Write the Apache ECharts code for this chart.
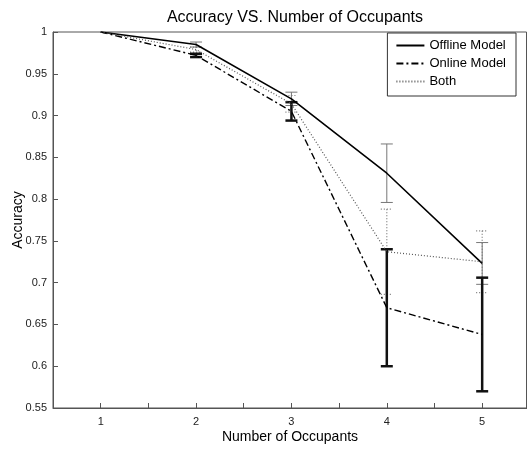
<!DOCTYPE html>
<html>
<head>
<meta charset="utf-8">
<script src="https://cdn.jsdelivr.net/npm/echarts@6/dist/echarts.min.js"></script>
<style>
  html, body { margin: 0; padding: 0; background: #fff; }
  #chart { width: 527px; height: 450px; }
</style>
</head>
<body>
<div id="chart"></div>
<script>
// values
const occupants = [1, 2, 3, 4, 5]
const offline = [1.0, 0.985, 0.920, 0.831, 0.723]
const online = [1.0, 0.972, 0.905, 0.670, 0.638]
const both = [1.0, 0.979, 0.914, 0.737, 0.725]
const offlineErr = [0, 0.003, 0.008, 0.035, 0.025]
const onlineErr = [0, 0.002, 0.011, 0.070, 0.068]
const bothErr = [0, 0.003, 0.010, 0.051, 0.037]

const font = 'Liberation Sans, Arial, sans-serif'

const chart = echarts.init(document.getElementById('chart'))

const errorBar = (color, width, dash) => (params, api) => {
  const x = api.value(0)
  const y = api.value(1)
  const e = api.value(2)
  if (!e) return null
  const top = api.coord([x, y + e])
  const bot = api.coord([x, y - e])
  const cap = 6
  const style = { stroke: color, lineWidth: width, lineDash: dash }
  return {
    type: 'group',
    children: [
      { type: 'line', shape: { x1: top[0], y1: top[1], x2: bot[0], y2: bot[1] }, style },
      { type: 'line', shape: { x1: top[0] - cap, y1: top[1], x2: top[0] + cap, y2: top[1] }, style },
      { type: 'line', shape: { x1: bot[0] - cap, y1: bot[1], x2: bot[0] + cap, y2: bot[1] }, style }
    ]
  }
}

const pairs = (vals, errs) => occupants.map((x, i) => [x, vals[i], errs[i]])

const option = {
  animation: false,
  backgroundColor: '#fff',
  title: {
    text: 'Accuracy VS. Number of Occupants',
    left: 290,
    textAlign: 'center',
    top: 5,
    textStyle: { fontFamily: font, fontWeight: 'normal', fontSize: 16, color: '#000' }
  },
  legend: {
    orient: 'vertical',
    right: 11,
    top: 33,
    backgroundColor: '#fff',
    borderColor: '#333',
    borderWidth: 1,
    borderRadius: 0,
    padding: [6, 10, 8, 8],
    itemGap: 5,
    itemWidth: 28,
    itemHeight: 13,
    itemStyle: { opacity: 0 },
    textStyle: { fontFamily: font, fontSize: 13, color: '#000' },
    data: ['Offline Model', 'Online Model', 'Both']
  },
  grid: { left: 53, right: 0, top: 32, bottom: 42, outerBoundsMode: 'none', containLabel: false },
  xAxis: {
    type: 'value',
    min: 0.5,
    max: 5.47,
    interval: 0.5,
    name: 'Number of Occupants',
    nameLocation: 'middle',
    nameGap: 22,
    nameMoveOverlap: false,
    nameTextStyle: { fontFamily: font, fontSize: 14, color: '#000' },
    axisLine: { lineStyle: { color: '#555' } },
    axisTick: { inside: true, length: 5, lineStyle: { color: '#555' } },
    axisLabel: {
      fontFamily: font, fontSize: 11, color: '#222', margin: 8,
      showMinLabel: false, showMaxLabel: false,
      formatter: v => (Number.isInteger(v) ? String(v) : '')
    },
    splitLine: { show: false }
  },
  yAxis: {
    type: 'value',
    min: 0.55,
    max: 1,
    interval: 0.05,
    name: 'Accuracy',
    nameLocation: 'middle',
    nameGap: 28,
    nameMoveOverlap: false,
    nameTextStyle: { fontFamily: font, fontSize: 14, color: '#000' },
    axisLine: { show: true, lineStyle: { color: '#555' } },
    axisTick: { show: true, inside: true, length: 5, lineStyle: { color: '#555' } },
    axisLabel: {
      fontFamily: font, fontSize: 11, color: '#222', margin: 6,
      formatter: v => String(Math.round(v * 100) / 100)
    },
    splitLine: { show: false }
  },
  series: [
    {
      name: 'Offline Model',
      type: 'line',
      data: occupants.map((x, i) => [x, offline[i]]),
      symbol: 'none',
      lineStyle: { color: '#000', width: 1.6, type: 'solid' },
      itemStyle: { color: '#000' },
      z: 5
    },
    {
      name: 'Online Model',
      type: 'line',
      data: occupants.map((x, i) => [x, online[i]]),
      symbol: 'none',
      lineStyle: { color: '#000', width: 1.4, type: [7, 3, 2, 3] },
      itemStyle: { color: '#000' },
      z: 5
    },
    {
      name: 'Both',
      type: 'line',
      data: occupants.map((x, i) => [x, both[i]]),
      symbol: 'none',
      lineStyle: { color: '#555', width: 1.2, type: [1, 2] },
      itemStyle: { color: '#555' },
      z: 5
    },
    {
      type: 'custom',
      renderItem: errorBar('#777', 1, null),
      data: pairs(offline, offlineErr),
      z: 3
    },
    {
      type: 'custom',
      renderItem: errorBar('#777', 1.2, [1, 2]),
      data: pairs(both, bothErr),
      z: 3
    },
    {
      type: 'custom',
      renderItem: errorBar('#111', 2.5, null),
      data: pairs(online, onlineErr),
      z: 4
    }
  ]
}

chart.setOption(option)

// frame the plot area like the original (top and right borders)
chart.setOption({
  graphic: [{
    type: 'rect',
    shape: { x: 53, y: 32, width: 473.5, height: 376 },
    style: { fill: 'none', stroke: '#555', lineWidth: 1 },
    silent: true,
    z: -1
  }]
})
</script>
</body>
</html>
